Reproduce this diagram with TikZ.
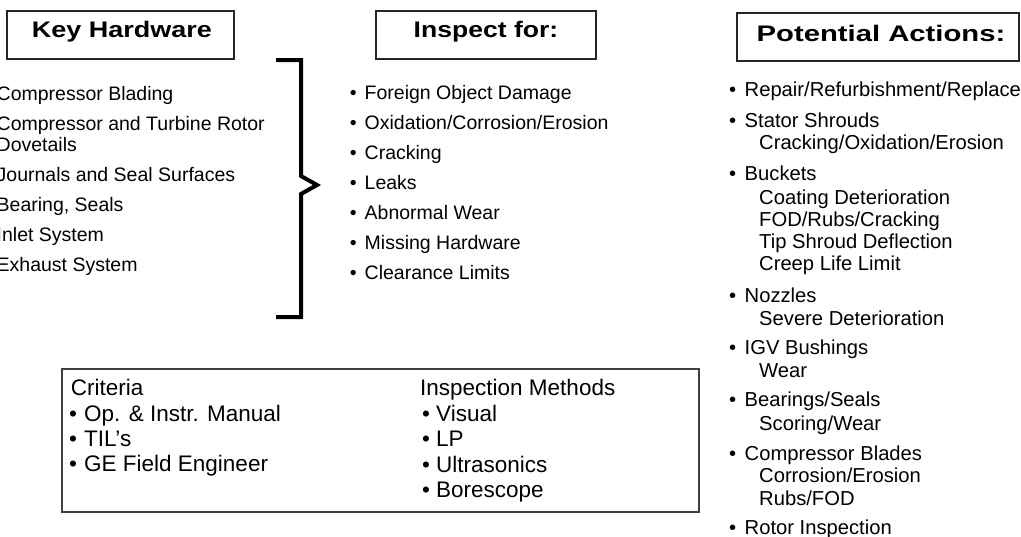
\documentclass[tikz,border=0pt]{standalone}
\usepackage{fontspec}
\setmainfont{Liberation Sans}
\tikzset{
  hdrbox/.style={draw=black!85, line width=1.3pt, inner sep=0pt},
  hdrtext/.style={font=\fontsize{22.5}{24}\selectfont\bfseries, inner sep=0pt, anchor=base},
  listtext/.style={font=\fontsize{19.5}{21}\selectfont, inner sep=0pt, anchor=base west},
  rlisttext/.style={font=\fontsize{20.2}{21}\selectfont, inner sep=0pt, anchor=base west},
  boxtext/.style={font=\fontsize{22.5}{24}\selectfont, inner sep=0pt, anchor=base west},
  critbox/.style={draw=black!75, line width=1.8pt, inner sep=0pt},
  bracketline/.style={line width=4pt, line join=miter}
}
\newcommand{\mb}[1]{\makebox[#1pt][l]{•}}
\begin{document}
\begin{tikzpicture}[x=1pt,y=-1pt]
\useasboundingbox (0,0) rectangle (1021,536);
% header boxes
\node[hdrbox, minimum width=227pt, minimum height=48pt] (khbox) at (120.5,35) {};
\node[hdrtext] (kh) at (122,37) {\scalebox{1.2}[1]{Key Hardware}};
\node[hdrbox, minimum width=220pt, minimum height=48pt] (ifbox) at (486,35) {};
\node[hdrtext] (if) at (486,37) {\scalebox{1.18}[1]{Inspect for:}};
\node[hdrbox, minimum width=282pt, minimum height=48pt] (pabox) at (878,37) {};
\node[hdrtext] (pa) at (881,41) {\scalebox{1.3}[1]{Potential Actions:}};
% left list
\node[listtext] (l1) at (-3.5,100) {Compressor Blading};
\node[listtext] (l2) at (-3.5,130) {Compressor and Turbine Rotor};
\node[listtext] (l3) at (-3.5,151) {Dovetails};
\node[listtext] (l4) at (-3.5,181) {Journals and Seal Surfaces};
\node[listtext] (l5) at (-3.5,211) {Bearing, Seals};
\node[listtext] (l6) at (-3.5,241) {Inlet System};
\node[listtext] (l7) at (-3.5,271) {Exhaust System};
% bracket
\coordinate (bt1) at (276,60);
\coordinate (bt2) at (301,60);
\coordinate (bt3) at (301,176);
\coordinate (btip) at (317,185);
\coordinate (bt4) at (301,194);
\coordinate (bt5) at (301,317);
\coordinate (bt6) at (276,317);
\draw[bracketline] (bt1) -- (bt2) -- (bt3) -- (btip) -- (bt4) -- (bt5) -- (bt6);
% middle list
\node[listtext] (m1) at (349.7,99) {\mb{14.8}Foreign Object Damage};
\node[listtext] (m2) at (349.7,129) {\mb{14.8}Oxidation/Corrosion/Erosion};
\node[listtext] (m3) at (349.7,159) {\mb{14.8}Cracking};
\node[listtext] (m4) at (349.7,189) {\mb{14.8}Leaks};
\node[listtext] (m5) at (349.7,219) {\mb{14.8}Abnormal Wear};
\node[listtext] (m6) at (349.7,249) {\mb{14.8}Missing Hardware};
\node[listtext] (m7) at (349.7,279) {\mb{14.8}Clearance Limits};
% right list
\node[rlisttext] (r1) at (729,96) {\mb{15.5}Repair/Refurbishment/Replace};
\node[rlisttext] (r2) at (729,127) {\mb{15.5}Stator Shrouds};
\node[rlisttext] (r2a) at (759,149.5) {Cracking/Oxidation/Erosion};
\node[rlisttext] (r3) at (729,180) {\mb{15.5}Buckets};
\node[rlisttext] (r3a) at (759,204) {Coating Deterioration};
\node[rlisttext] (r3b) at (759,226) {FOD/Rubs/Cracking};
\node[rlisttext] (r3c) at (759,248) {Tip Shroud Deflection};
\node[rlisttext] (r3d) at (759,270) {Creep Life Limit};
\node[rlisttext] (r4) at (729,302.3) {\mb{15.5}Nozzles};
\node[rlisttext] (r4a) at (759,325) {Severe Deterioration};
\node[rlisttext] (r5) at (729,354) {\mb{15.5}IGV Bushings};
\node[rlisttext] (r5a) at (759,377.3) {Wear};
\node[rlisttext] (r6) at (729,406.7) {\mb{15.5}Bearings/Seals};
\node[rlisttext] (r6a) at (759,430) {Scoring/Wear};
\node[rlisttext] (r7) at (729,460) {\mb{15.5}Compressor Blades};
\node[rlisttext] (r7a) at (759,482.7) {Corrosion/Erosion};
\node[rlisttext] (r7b) at (759,505) {Rubs/FOD};
\node[rlisttext] (r8) at (729,534.3) {\mb{15.5}Rotor Inspection};
% bottom box
\node[critbox, minimum width=637pt, minimum height=143pt] (bbox) at (380.5,440.5) {};
\node[boxtext] (c0) at (70.7,395) {Criteria};
\node[boxtext] (c1) at (69,421) {\mb{15}Op. \& Instr. Manual};
\node[boxtext] (c2) at (69,446) {\mb{15}TIL’s};
\node[boxtext] (c3) at (69,471) {\mb{15}GE Field Engineer};
\node[boxtext] (i0) at (420,395) {Inspection Methods};
\node[boxtext] (i1) at (422,421) {\mb{14}Visual};
\node[boxtext] (i2) at (422,446.5) {\mb{14}LP};
\node[boxtext] (i3) at (422,472) {\mb{14}Ultrasonics};
\node[boxtext] (i4) at (422,497.5) {\mb{14}Borescope};
\end{tikzpicture}
\end{document}
